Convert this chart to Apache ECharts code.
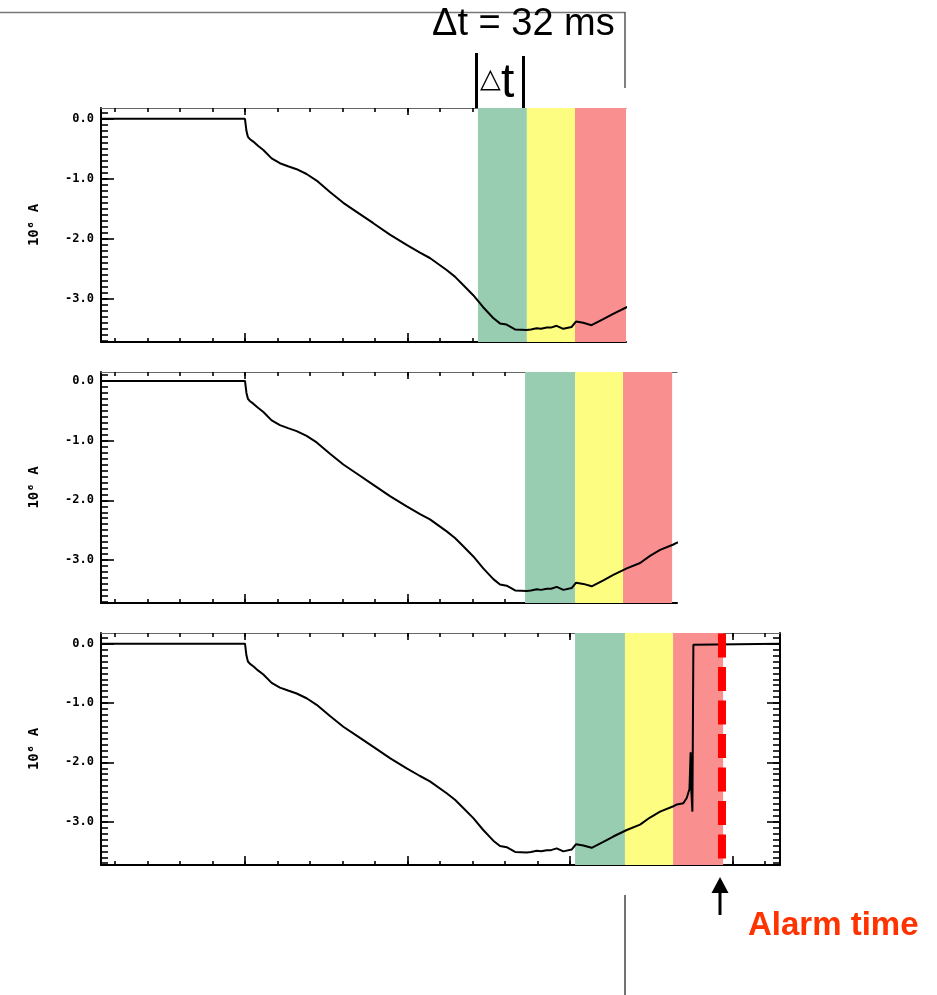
<!DOCTYPE html>
<html>
<head>
<meta charset="utf-8">
<script src="https://cdn.jsdelivr.net/npm/echarts@6/dist/echarts.min.js"></script>
<style>html,body{margin:0;padding:0;background:#fff}#c{width:937px;height:995px}</style>
</head>
<body>
<div id="c"></div>
<script>
// ---- data (time in ms, current in 10^6 A) ----
const timeMs = [11.4, 100.0, 100.3, 100.9, 101.8, 103.1, 105.1, 108.0, 111.3, 116.4, 121.5, 126.5, 131.8, 137.9, 144.1, 152.3, 160.5, 168.7, 179.0, 189.2, 199.5, 207.7, 213.8, 224.1, 229.2, 234.3, 240.5, 246.6, 252.8, 256.9, 261.0, 266.2, 273.3, 276.0, 279.5, 282.2, 285.7, 288.3, 291.8, 295.9, 301.0, 303.7, 308.2, 313.3, 320.5, 326.6, 334.9, 343.1, 349.2, 355.4, 363.6, 365.8, 369.7, 371.8, 373.5, 374.2, 374.5, 375.3, 375.9, 376.9, 429.2];
const currentMA = [0, 0, -0.02, -0.2, -0.3, -0.34, -0.38, -0.45, -0.52, -0.66, -0.74, -0.79, -0.84, -0.92, -1.03, -1.22, -1.40, -1.55, -1.74, -1.93, -2.10, -2.23, -2.32, -2.52, -2.63, -2.77, -2.94, -3.14, -3.32, -3.41, -3.43, -3.51, -3.52, -3.51, -3.49, -3.50, -3.48, -3.48, -3.45, -3.50, -3.47, -3.38, -3.40, -3.44, -3.34, -3.25, -3.14, -3.05, -2.93, -2.83, -2.74, -2.71, -2.69, -2.60, -2.45, -1.83, -2.40, -2.83, -0.02, 0, 0];

// band edges (green | yellow | red) per panel, ms
const bandsPanel1 = [243.4, 273.5, 303.1, 334.5];
const bandsPanel2 = [272.3, 303.1, 332.6, 362.8];
const bandsPanel3 = [303.1, 333.8, 363.4, 394.2];
const alarmTimeMs = 393.5;

// tick labels
const yTickLabels = [0, -1, -2, -3];
const xMajorTicks = [100, 200, 300, 400];
const xMinorTicks = [20, 40, 60, 80, 100, 120, 140, 160, 180, 200, 220, 240, 260, 280, 300, 320, 340, 360, 380, 400, 420];
const yMinorTicks = [];
for (let k = -37; k <= 1; k++) yMinorTicks.push(k / 10);

const yTitle = '10\u2076 A';
const bandColors = ['#98cdb2', '#fdfd82', '#fa8f8f'];

// ---- layout ----
const panels = [
  {top:108, width:525, height:234, xMax:334.5, yMin:-3.72, yMax:0.18, bands:bandsPanel1, right:false},
  {top:372, width:576, height:231, xMax:365.8, yMin:-3.72, yMax:0.15, bands:bandsPanel2, right:false},
  {top:633, width:679, height:232, xMax:429.2, yMin:-3.73, yMax:0.18, bands:bandsPanel3, right:true}
];
const xMin = 11.4;
const curve = timeMs.map((t, i) => [t, currentMA[i]]);

const grid = [], xAxis = [], yAxis = [], series = [];
const tickStyle = {color:'#000', width:1.6};
const labelFont = {fontFamily:'"DejaVu Sans Mono", monospace', fontWeight:'bold', fontSize:12, color:'#000'};

panels.forEach((p, gi) => {
  grid.push({left:101, top:p.top, width:p.width, height:p.height, containLabel:false});
  const xi = xAxis.length;
  const baseX = {gridIndex:gi, type:'value', min:xMin, max:p.xMax, axisLabel:{show:false}, splitLine:{show:false}};
  xAxis.push(Object.assign({}, baseX, {position:'bottom',
    axisLine:{show:true, onZero:false, lineStyle:{color:'#000', width:2}},
    axisTick:{show:true, inside:true, length:4, customValues:xMinorTicks, lineStyle:tickStyle}}));
  xAxis.push(Object.assign({}, baseX, {position:'bottom',
    axisLine:{show:false, onZero:false},
    axisTick:{show:true, inside:true, length:9, customValues:xMajorTicks, lineStyle:tickStyle}}));
  xAxis.push(Object.assign({}, baseX, {position:'top',
    axisLine:{show:true, onZero:false, lineStyle:{color:'#666', width:1.2}},
    axisTick:{show:true, inside:true, length:4, customValues:xMinorTicks, lineStyle:tickStyle}}));
  xAxis.push(Object.assign({}, baseX, {position:'top',
    axisLine:{show:false, onZero:false},
    axisTick:{show:true, inside:true, length:7, customValues:xMajorTicks, lineStyle:tickStyle}}));

  const yi = yAxis.length;
  const baseY = {gridIndex:gi, type:'value', min:p.yMin, max:p.yMax, splitLine:{show:false}};
  yAxis.push(Object.assign({}, baseY, {position:'left',
    axisLine:{show:true, onZero:false, lineStyle:{color:'#000', width:2}},
    axisTick:{show:true, inside:true, length:7, customValues:yMinorTicks, lineStyle:tickStyle},
    axisLabel:{show:false}}));
  yAxis.push(Object.assign({}, baseY, {position:'left',
    axisLine:{show:false, onZero:false},
    axisTick:{show:true, inside:true, length:13, customValues:yTickLabels, lineStyle:tickStyle},
    axisLabel:Object.assign({show:true, customValues:yTickLabels, margin:7, formatter:v => Number(v).toFixed(1)}, labelFont),
    name:yTitle, nameLocation:'middle', nameRotate:90, nameGap:60,
    nameTextStyle:{fontFamily:'"DejaVu Sans Mono", monospace', fontWeight:'bold', fontSize:14, color:'#000'}}));
  if (p.right) {
    yAxis.push(Object.assign({}, baseY, {position:'right',
      axisLine:{show:true, onZero:false, lineStyle:{color:'#000', width:2}},
      axisTick:{show:true, inside:true, length:7, customValues:yMinorTicks, lineStyle:tickStyle},
      axisLabel:{show:false}}));
    yAxis.push(Object.assign({}, baseY, {position:'right',
      axisLine:{show:false, onZero:false},
      axisTick:{show:true, inside:true, length:13, customValues:yTickLabels, lineStyle:tickStyle},
      axisLabel:{show:false}}));
  }

  const areas = [];
  for (let k = 0; k < 3; k++) {
    areas.push([{xAxis:p.bands[k], itemStyle:{color:bandColors[k], opacity:1}}, {xAxis:p.bands[k + 1]}]);
  }
  series.push({type:'line', xAxisIndex:xi, yAxisIndex:yi, data:curve, symbol:'none',
    lineStyle:{opacity:0}, z:1, silent:true,
    markArea:{silent:true, data:areas}});
  series.push({type:'line', xAxisIndex:xi, yAxisIndex:yi, data:curve, symbol:'none', showSymbol:false,
    lineStyle:{color:'#000', width:2}, z:5, silent:true, clip:true});
  if (p.right) {
    series.push({type:'line', xAxisIndex:xi, yAxisIndex:yi,
      data:[[alarmTimeMs, 0.17], [alarmTimeMs, -3.72]], symbol:'none',
      lineStyle:{color:'#ff0000', width:8, type:[24, 9.5], cap:'butt'}, z:6, silent:true});
  }
});

const graphic = [
  {type:'line', shape:{x1:0, y1:12.5, x2:625, y2:12.5}, style:{stroke:'#777', lineWidth:1.5}},
  {type:'line', shape:{x1:625, y1:12, x2:625, y2:88}, style:{stroke:'#555', lineWidth:1.5}},
  {type:'text', x:432, y:25, style:{text:'\u0394t = 32 ms', font:'38px "Liberation Sans", Arial, sans-serif', fill:'#000', verticalAlign:'middle', align:'left'}},
  {type:'rect', shape:{x:475, y:53, width:3, height:55}, style:{fill:'#000'}},
  {type:'rect', shape:{x:522, y:56, width:3, height:52}, style:{fill:'#000'}},
  {type:'text', x:480, y:80, style:{text:'\u25B3', font:'27px "DejaVu Sans", sans-serif', fill:'#000', verticalAlign:'middle', align:'left'}},
  {type:'text', x:501, y:84, style:{text:'t', font:'48px "Liberation Sans", Arial, sans-serif', fill:'#000', verticalAlign:'middle', align:'left'}},
  {type:'polygon', shape:{points:[[711.5, 893], [728.5, 893], [720, 877]]}, style:{fill:'#000'}},
  {type:'line', shape:{x1:720, y1:892, x2:720, y2:915}, style:{stroke:'#000', lineWidth:3}},
  {type:'text', x:748, y:926, style:{text:'Alarm time', font:'bold 33px "Liberation Sans", Arial, sans-serif', fill:'#ff3300', verticalAlign:'middle', align:'left'}},
  {type:'line', shape:{x1:625, y1:895, x2:625, y2:995}, style:{stroke:'#444', lineWidth:1.5}}
];

const chart = echarts.init(document.getElementById('c'), null, {renderer:'canvas'});
chart.setOption({animation:false, backgroundColor:'#fff', grid, xAxis, yAxis, series, graphic});
</script>
</body>
</html>
